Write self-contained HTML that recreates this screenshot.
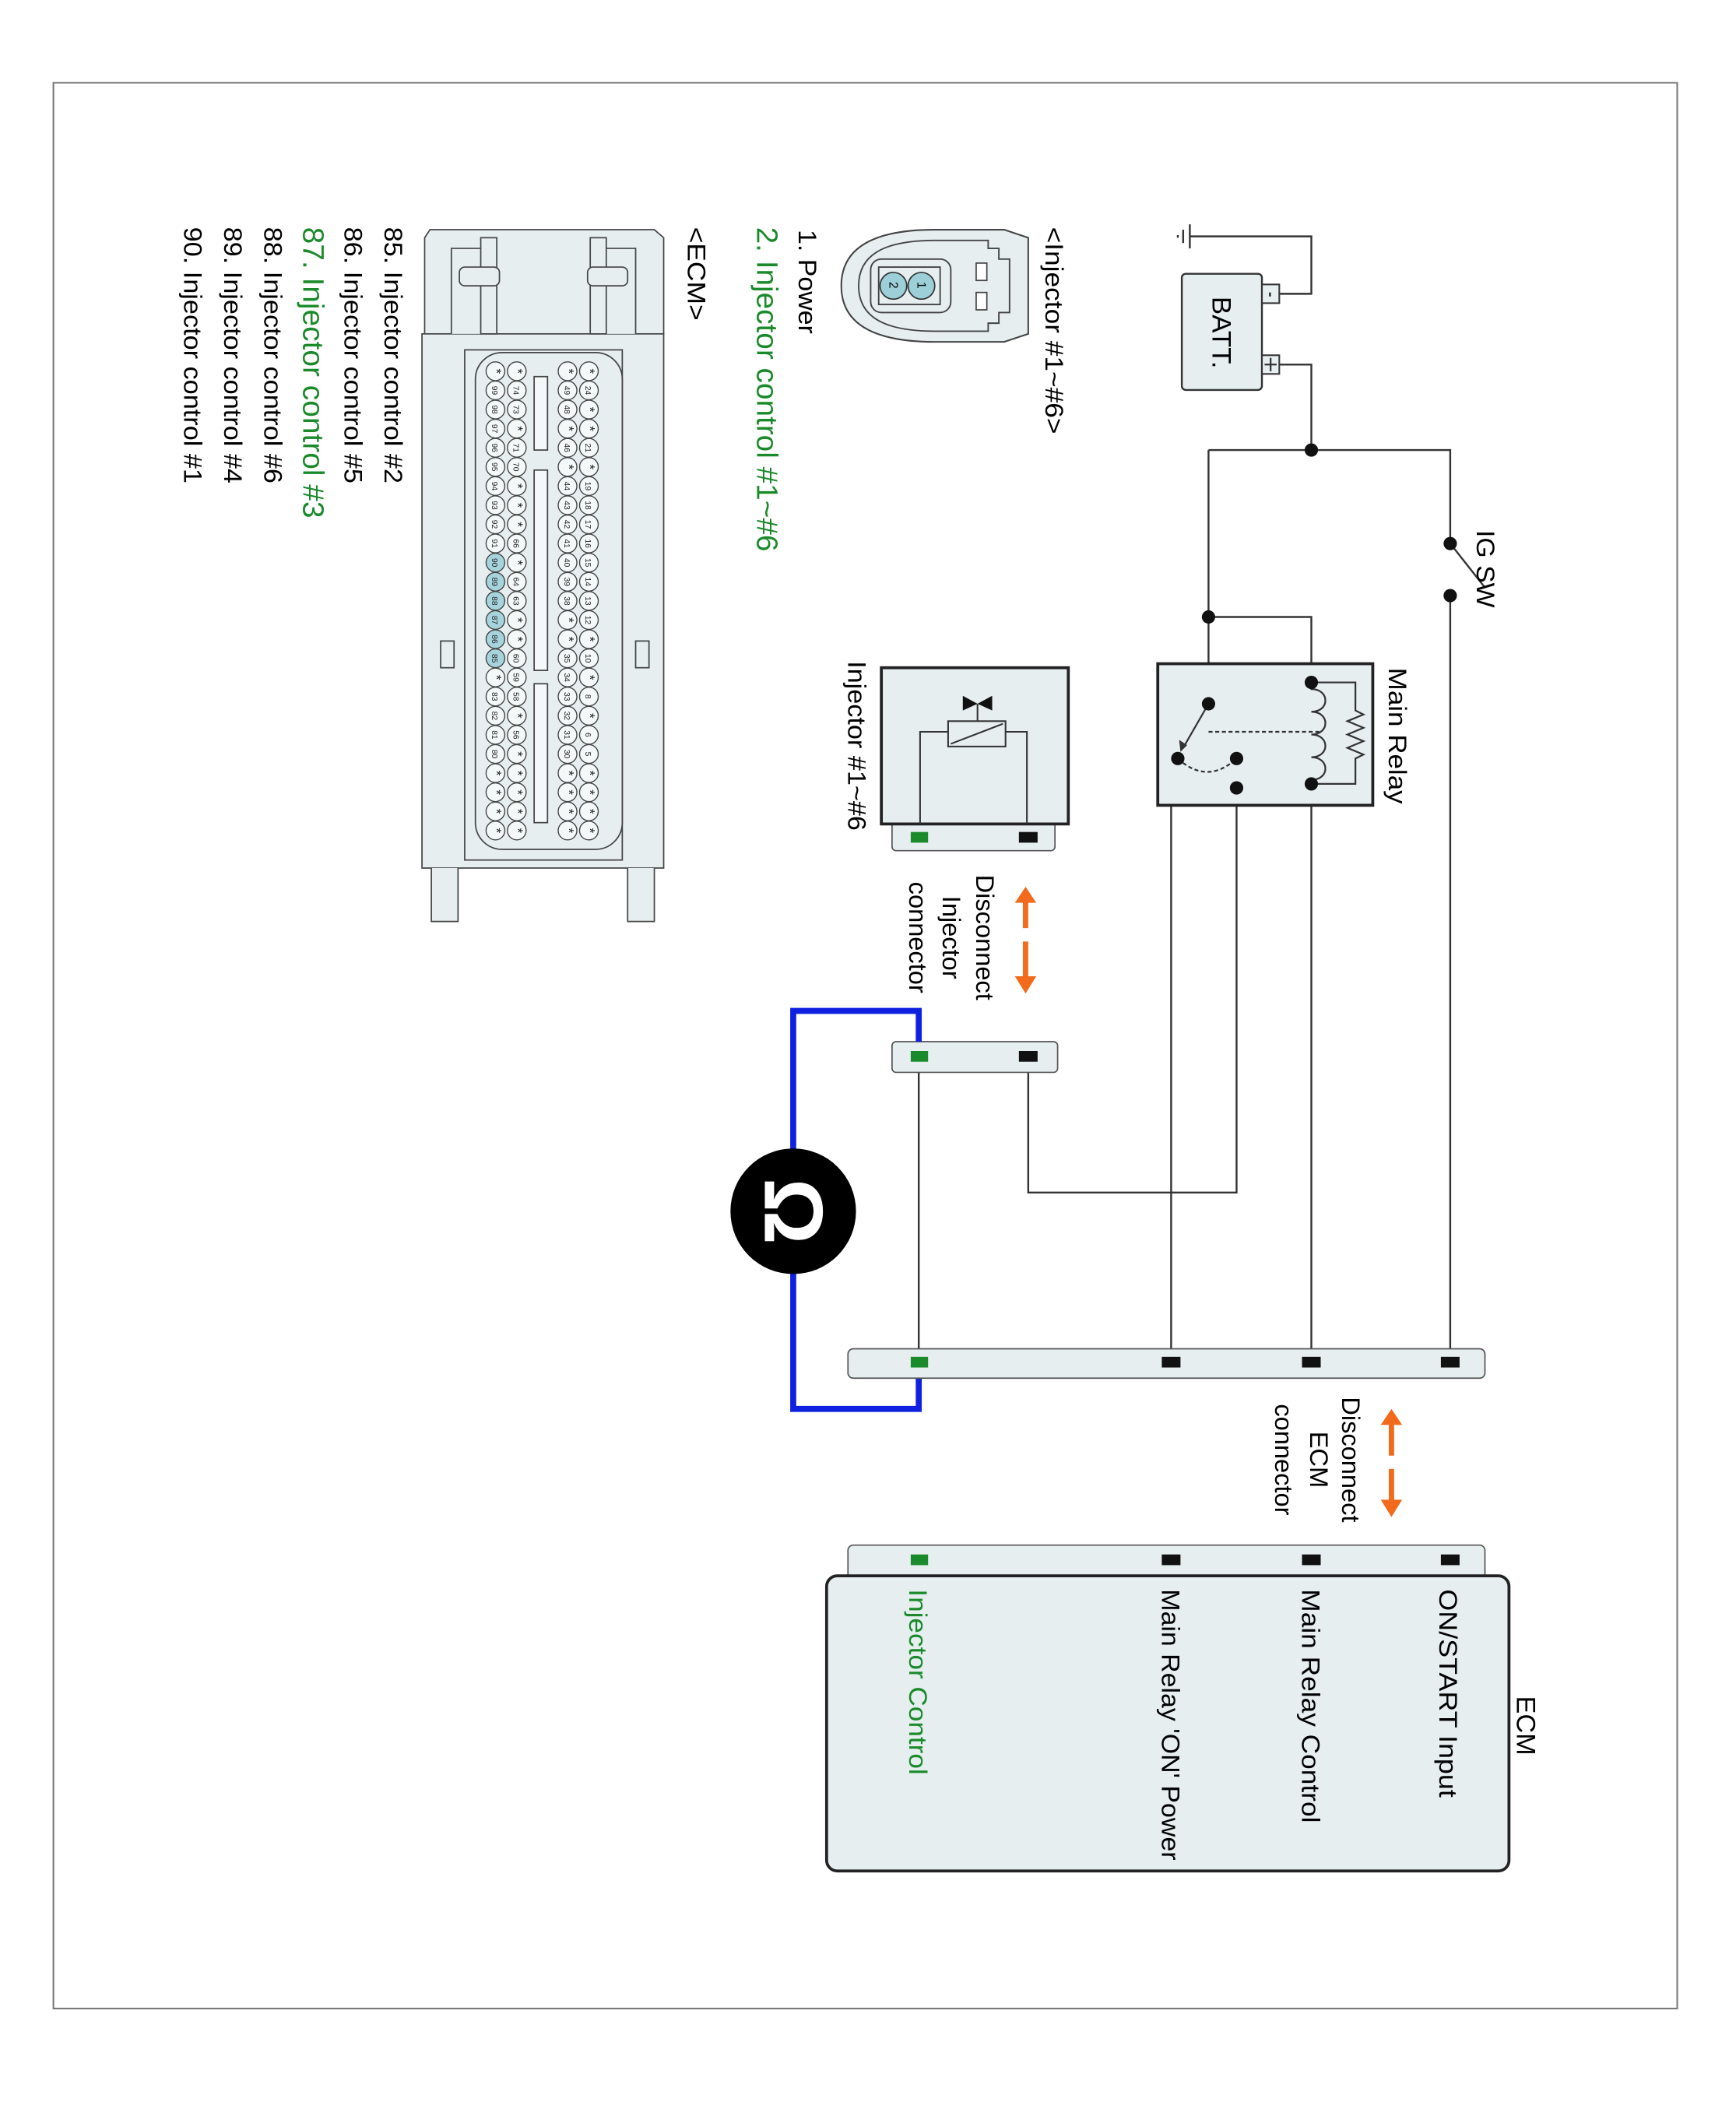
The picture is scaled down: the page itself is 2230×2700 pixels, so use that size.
<!DOCTYPE html>
<html><head><meta charset="utf-8"><style>
html,body{margin:0;padding:0;background:#fff;}
svg{display:block;}
text{font-family:"Liberation Sans",Arial,sans-serif;}
</style></head><body>
<svg id="s" width="2230" height="2700" viewBox="0 0 1300 1574" preserveAspectRatio="none" xmlns="http://www.w3.org/2000/svg">
<rect x="40" y="62" width="1216" height="1442" fill="none" stroke="#777" stroke-width="1.2"/>

<!-- wires -->
<g fill="none" stroke="#333" stroke-width="1.4">
<path d="M891 177 H982 V220 H958"/>
<path d="M958 273 H982 V337"/>
<path d="M905 337 H1086 V405"/>
<path d="M1086 446 V1020"/>
<path d="M905 337 V527"/>
<path d="M905 462 H982 V511"/>
<path d="M982 587 V1020"/>
<path d="M926 568 V893 H770 V791"/>
<path d="M926 590 H877 V1020"/>
<path d="M688 791 V1020"/>
<path d="M1086 407 L1112 440"/>
</g>
<!-- ground -->
<g stroke="#333" stroke-width="1.4">
<line x1="891" y1="168" x2="891" y2="186"/><line x1="886" y1="172" x2="886" y2="182"/><line x1="882" y1="176" x2="882" y2="178"/>
</g>
<!-- battery -->
<rect x="885" y="205" width="60" height="87" rx="3" fill="#e6eef0" stroke="#333" stroke-width="1.4"/>
<rect x="945" y="213" width="13" height="14" fill="#e6eef0" stroke="#333" stroke-width="1.2"/>
<rect x="945" y="266" width="13" height="14" fill="#e6eef0" stroke="#333" stroke-width="1.2"/>
<line x1="951" y1="219" x2="951" y2="222" stroke="#333" stroke-width="1.5"/>
<path d="M947 273 H956 M951.5 268 V278" stroke="#333" stroke-width="1.3"/>
<text transform="translate(908,222) rotate(90)" font-size="20" textLength="54" lengthAdjust="spacingAndGlyphs">BATT.</text>

<g fill="#111">
<circle cx="982" cy="337" r="5"/>
<circle cx="1086" cy="407" r="5"/><circle cx="1086" cy="446" r="5"/>
<circle cx="905" cy="462" r="5"/>
</g>
<text transform="translate(1106,397) rotate(90)" font-size="19" textLength="58" lengthAdjust="spacingAndGlyphs">IG SW</text>

<!-- main relay -->
<rect x="867" y="497" width="161" height="106" fill="#e6eef0" stroke="#222" stroke-width="2.2"/>
<g fill="none" stroke="#333" stroke-width="1.3">
<path d="M982 511 H1015 V532 l6 3 -12 5 12 5 -12 5 12 5 -12 5 12 5 -6 3 V587 H982"/>
<path d="M982 511 V516 c14 0 14 17 0 17 c14 0 14 17 0 17 c14 0 14 17 0 17 c14 0 14 17 0 17 V587"/>
<path d="M905 548 H990" stroke-dasharray="3,2"/>
<path d="M882 568 Q904 588 926 568" stroke-dasharray="3,2"/>
<path d="M905 527 L886 560"/>
</g>
<path d="M884 563 l-1 -9 6 4 z" fill="#333"/>
<g fill="#111">
<circle cx="982" cy="511" r="5"/><circle cx="982" cy="587" r="5"/>
<circle cx="905" cy="527" r="5"/><circle cx="882" cy="568" r="5"/>
<circle cx="926" cy="568" r="5"/><circle cx="926" cy="590" r="5"/>
</g>
<text transform="translate(1040,500) rotate(90)" font-size="19" textLength="102" lengthAdjust="spacingAndGlyphs">Main Relay</text>

<!-- injector -->
<rect x="668" y="612" width="122" height="25" rx="3" fill="#e6eef0" stroke="#555" stroke-width="1"/>
<rect x="660" y="500" width="140" height="117" fill="#e6eef0" stroke="#222" stroke-width="2.2"/>
<g fill="none" stroke="#333" stroke-width="1.2">
<rect x="710" y="540" width="43" height="19"/>
<path d="M712 557 L751 542"/>
<path d="M689 617 V548 H710 M769 617 V548 H753"/>
<path d="M732 540 V527"/>
</g>
<path d="M721 521 L732 527 L721 532 Z M743 521 L732 527 L743 532 Z" fill="#111"/>
<rect x="682" y="623" width="13" height="8" fill="#1a8a2a"/>
<rect x="763" y="623" width="14" height="8" fill="#111"/>
<text transform="translate(635,495) rotate(90)" font-size="19" textLength="127" lengthAdjust="spacingAndGlyphs">Injector #1~#6</text>

<!-- orange arrows -->
<g stroke="#f26a1b" stroke-width="4" fill="#f26a1b">
<line x1="768" y1="695" x2="768" y2="675"/><path d="M760 676 L768 664 L776 676 Z" stroke="none"/>
<line x1="768" y1="705" x2="768" y2="732"/><path d="M760 731 L768 744 L776 731 Z" stroke="none"/>
<line x1="1042" y1="1090" x2="1042" y2="1066"/><path d="M1034 1067 L1042 1055 L1050 1067 Z" stroke="none"/>
<line x1="1042" y1="1100" x2="1042" y2="1124"/><path d="M1034 1123 L1042 1136 L1050 1123 Z" stroke="none"/>
</g>
<g font-size="19" text-anchor="middle">
<text transform="translate(731,702) rotate(90)">Disconnect</text>
<text transform="translate(706,702) rotate(90)">Injector</text>
<text transform="translate(681,702) rotate(90)">connector</text>
<text transform="translate(1005,1093) rotate(90)">Disconnect</text>
<text transform="translate(981,1093) rotate(90)">ECM</text>
<text transform="translate(955,1093) rotate(90)">connector</text>
</g>

<!-- injector connector strip -->
<rect x="668" y="780" width="124" height="23" rx="3" fill="#e6eef0" stroke="#555" stroke-width="1"/>
<rect x="682" y="787" width="13" height="8" fill="#1a8a2a"/>
<rect x="763" y="787" width="14" height="8" fill="#111"/>

<!-- blue meter loop -->
<path d="M688 780 V757 H594 V1055 H688 V1022" fill="none" stroke="#1020e0" stroke-width="4.5"/>
<circle cx="594" cy="907" r="47" fill="#000"/>
<text transform="translate(594,907) rotate(90)" font-size="62" font-weight="bold" fill="#fff" text-anchor="middle" dominant-baseline="central">Ω</text>

<!-- ECM connector strips -->
<rect x="635" y="1010" width="477" height="22" rx="4" fill="#e6eef0" stroke="#555" stroke-width="1"/>
<rect x="682" y="1016" width="13" height="8" fill="#1a8a2a"/>
<rect x="870" y="1016" width="14" height="8" fill="#111"/>
<rect x="975" y="1016" width="14" height="8" fill="#111"/>
<rect x="1079" y="1016" width="14" height="8" fill="#111"/>

<rect x="635" y="1157" width="477" height="30" rx="4" fill="#e6eef0" stroke="#555" stroke-width="1"/>
<rect x="619" y="1180" width="511" height="221" rx="8" fill="#e6eef0" stroke="#222" stroke-width="2.2"/>
<rect x="682" y="1164" width="13" height="8" fill="#1a8a2a"/>
<rect x="870" y="1164" width="14" height="8" fill="#111"/>
<rect x="975" y="1164" width="14" height="8" fill="#111"/>
<rect x="1079" y="1164" width="14" height="8" fill="#111"/>
<text transform="translate(1136,1270) rotate(90)" font-size="20">ECM</text>
<text transform="translate(1078,1190) rotate(90)" font-size="19" textLength="156" lengthAdjust="spacingAndGlyphs">ON/START Input</text>
<text transform="translate(975,1190) rotate(90)" font-size="19" textLength="175" lengthAdjust="spacingAndGlyphs">Main Relay Control</text>
<text transform="translate(870,1190) rotate(90)" font-size="19" textLength="203" lengthAdjust="spacingAndGlyphs">Main Relay 'ON' Power</text>
<text transform="translate(681,1190) rotate(90)" font-size="19" fill="#1a8a2a" textLength="139" lengthAdjust="spacingAndGlyphs">Injector Control</text>

<!-- left labels -->
<text transform="translate(783,170) rotate(90)" font-size="19" textLength="155" lengthAdjust="spacingAndGlyphs">&lt;Injector #1~#6&gt;</text>
<text transform="translate(598,172) rotate(90)" font-size="19" textLength="78" lengthAdjust="spacingAndGlyphs">1. Power</text>
<text transform="translate(567,170) rotate(90)" font-size="22" fill="#1a8a2a" textLength="243" lengthAdjust="spacingAndGlyphs">2. Injector control #1~#6</text>
<text transform="translate(515,170) rotate(90)" font-size="19" textLength="70" lengthAdjust="spacingAndGlyphs">&lt;ECM&gt;</text>
<text transform="translate(288,170) rotate(90)" font-size="19" textLength="192" lengthAdjust="spacingAndGlyphs">85. Injector control #2</text>
<text transform="translate(258,170) rotate(90)" font-size="19" textLength="192" lengthAdjust="spacingAndGlyphs">86. Injector control #5</text>
<text transform="translate(227,170) rotate(90)" font-size="22" fill="#1a8a2a" textLength="218" lengthAdjust="spacingAndGlyphs">87. Injector control #3</text>
<text transform="translate(198,170) rotate(90)" font-size="19" textLength="192" lengthAdjust="spacingAndGlyphs">88. Injector control #6</text>
<text transform="translate(168,170) rotate(90)" font-size="19" textLength="192" lengthAdjust="spacingAndGlyphs">89. Injector control #4</text>
<text transform="translate(138,170) rotate(90)" font-size="19" textLength="192" lengthAdjust="spacingAndGlyphs">90. Injector control #1</text>

<!-- injector connector icon -->
<path d="M700 172 H752 L770 178 V250 L752 256 H700 C650 256 630 240 630 214 C630 188 650 172 700 172 Z" fill="#e6eef0" stroke="#444" stroke-width="1.2"/>
<path d="M700 180 H740 V186 H748 V194 H756 V234 H748 V242 H740 V248 H700 C660 248 643 236 643 214 C643 192 660 180 700 180 Z" fill="none" stroke="#444" stroke-width="1.1"/>
<rect x="652" y="194" width="60" height="40" rx="8" fill="#e6eef0" stroke="#444" stroke-width="1.1"/>
<rect x="658" y="200" width="46" height="28" fill="none" stroke="#444" stroke-width="1.1"/>
<circle cx="690" cy="214" r="10" fill="#9ccfd8" stroke="#333"/>
<circle cx="669" cy="214" r="10" fill="#9ccfd8" stroke="#333"/>
<text transform="translate(687,211) rotate(90)" font-size="9">1</text>
<text transform="translate(666,211) rotate(90)" font-size="9">2</text>
<rect x="731" y="197" width="8" height="13" fill="#fff" stroke="#444"/>
<rect x="731" y="219" width="8" height="13" fill="#fff" stroke="#444"/>

<!-- ECM connector drawing -->
<g stroke="#444" stroke-width="1" fill="#e6eef0">
<path d="M322 172 H490 L497 178 V250 H318 V178 Z"/>
<rect x="316" y="250" width="181" height="400"/>
<path d="M338 250 V186 H362 V250 M452 250 V186 H476 V250"/>
<rect x="360" y="178" width="12" height="72"/><rect x="442" y="178" width="12" height="72"/>
<rect x="344" y="200" width="30" height="14" rx="4"/><rect x="440" y="200" width="30" height="14" rx="4"/>
<path d="M323 650 V690 H343 V650 M470 650 V690 H490 V650"/>
<rect x="348" y="262" width="118" height="382"/>
<rect x="356" y="264" width="110" height="372" rx="20"/>
<rect x="330" y="480" width="10" height="20"/><rect x="476" y="480" width="10" height="20"/>
</g>
<g id="pins"></g>
<g fill="#f4f8f8" stroke="#444" stroke-width="1">
<rect x="400" y="282" width="10" height="55"/><rect x="400" y="352" width="10" height="150"/><rect x="400" y="512" width="10" height="104"/>
</g>
</svg>
<script>
var cols=[[371,"* 99 98 97 96 95 94 93 92 91 90 89 88 87 86 85 * 83 82 81 80 * * * *"],
[387,"* 74 73 * 71 70 * * * 66 * 64 63 * * 60 59 58 * 56 * * * * *"],
[425,"* 49 48 * 46 * 44 43 42 41 40 39 38 * * 35 34 33 32 31 30 * * * *"],
[441,"* 24 * * 21 * 19 18 17 16 15 14 13 12 * 10 * 8 * 6 5 * * * *"]];
var g=document.getElementById('pins'),ns="http://www.w3.org/2000/svg",h="";
cols.forEach(function(c){c[1].split(" ").forEach(function(t,i){var y=278+i*14.33;
var hl=(c[0]==371&&i>=10&&i<=15);
h+='<circle cx="'+c[0]+'" cy="'+y+'" r="7" fill="'+(hl?'#a6d3dc':'#f4f8f8')+'" stroke="#444" stroke-width="0.8"/>';
h+='<text transform="translate('+(c[0]-2.5)+','+y+') rotate(90)" font-size="'+(t=="*"?10:6)+'" text-anchor="middle" fill="#222">'+t+'</text>';});});
g.innerHTML=h;
</script>
</body></html>
